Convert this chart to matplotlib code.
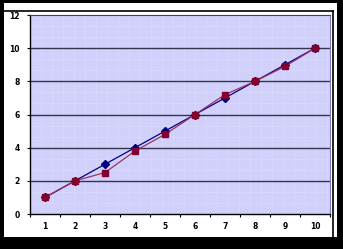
import matplotlib
matplotlib.use("Agg")
import matplotlib.pyplot as plt
import numpy as np
from matplotlib.patches import Rectangle

categories = ["1", "2", "3", "4", "5", "6", "7", "8", "9", "10"]
series_a = [1, 2, 3, 4, 5, 6, 7, 8, 9, 10]
series_b = [1, 2, 2.5, 3.8, 4.8, 6, 7.2, 8, 8.9, 10]
y_ticks = [0, 2, 4, 6, 8, 10, 12]

W, H = 343, 249
fig = plt.figure(figsize=(W / 100, H / 100), dpi=100, facecolor="black")

# background axes in pixel coordinates for the white panel and frame
bg = fig.add_axes([0, 0, 1, 1], zorder=0)
bg.set_xlim(0, W)
bg.set_ylim(H, 0)
bg.axis("off")
bg.add_patch(Rectangle((4, 3), 333, 234, facecolor="white", edgecolor="none"))
bg.plot([4, 333], [10.5, 10.5], color="black", lw=1.2)
bg.plot([333, 333], [10.5, 237], color="black", lw=1.2)

ax = fig.add_axes([30 / W, 1 - 214 / H, 300 / W, 199 / H], zorder=1)
ax.set_facecolor("#D0D0FA")

x = np.arange(1, len(categories) + 1)
ax.set_xlim(0.5, len(categories) + 0.5)
ax.set_ylim(0, 12)

# faint background texture grid
for xv in np.arange(0.5, len(categories) + 0.5, 0.367):
    ax.axvline(xv, color="#DCDCFD", lw=0.6, ls=(0, (2, 1)), zorder=0.5)
for yv in np.arange(0, 12, 2 / 3):
    ax.axhline(yv, color="#DCDCFD", lw=0.6, ls=(0, (2, 1)), zorder=0.5)

# major gridlines
for yv in y_ticks[1:-1]:
    ax.axhline(yv, color="#34344F", lw=1.0, zorder=1)

ax.plot(x, series_a, color="#000080", lw=0.9, marker="D", markersize=4,
        markerfacecolor="#000080", markeredgecolor="#000080", zorder=3)
ax.plot(x, series_b, color="#993366", lw=0.9, marker="s", markersize=3.8,
        markerfacecolor="#800030", markeredgecolor="#800030", zorder=4)

ax.set_yticks(y_ticks)
ax.set_yticklabels([str(v) for v in y_ticks])
ax.set_xticks(np.arange(0.5, len(categories) + 1, 1.0))
ax.set_xticklabels([])
ax.set_xticks(x, minor=True)
ax.set_xticklabels(categories, minor=True)

ax.tick_params(axis="y", which="major", length=2.5, width=0.8, pad=5,
               labelsize=5.5, direction="out", colors="black")
ax.tick_params(axis="x", which="major", length=2, width=0.8, direction="out")
ax.tick_params(axis="x", which="minor", length=0, pad=6, labelsize=5.5)
for lab in ax.get_yticklabels() + ax.get_xticklabels(minor=True):
    lab.set_fontweight("bold")

ax.spines["left"].set_color("black")
ax.spines["left"].set_linewidth(1.0)
ax.spines["bottom"].set_color("black")
ax.spines["bottom"].set_linewidth(1.0)
ax.spines["top"].set_color("#603060")
ax.spines["top"].set_linewidth(0.8)
ax.spines["right"].set_color("#8080C0")
ax.spines["right"].set_linewidth(0.8)

fig.savefig("out.png", dpi=100, facecolor="black")
